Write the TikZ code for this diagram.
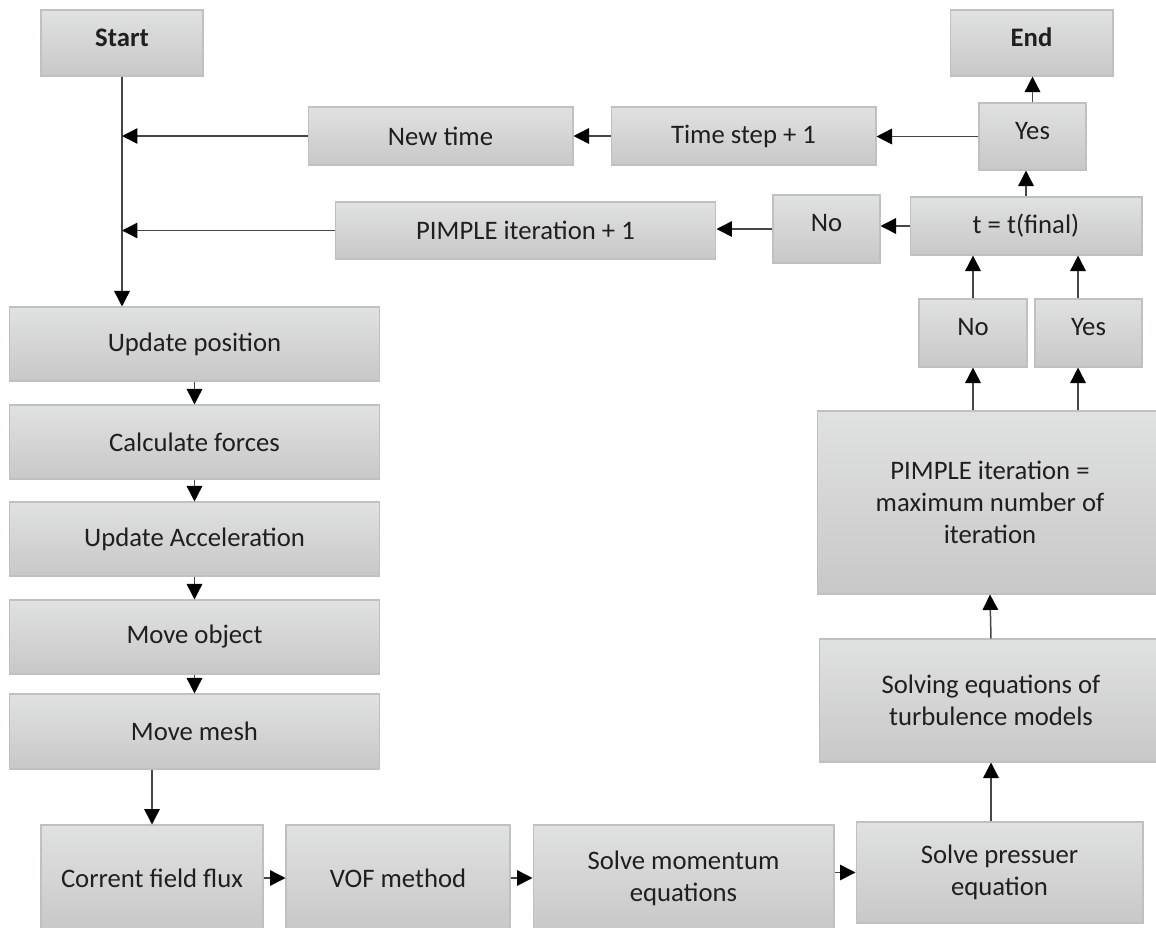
\documentclass[tikz,border=0pt]{standalone}
\usepackage{fontspec}
\setmainfont{Carlito}
\usetikzlibrary{arrows.meta}
\definecolor{boxtop}{RGB}{224,225,225}
\definecolor{boxbot}{RGB}{200,200,200}
\definecolor{boxedge}{RGB}{192,192,192}
\definecolor{linegray}{RGB}{70,70,70}
\newcommand{\liftup}[1]{\raisebox{0.11cm}[\height][\depth]{#1}}
\tikzstyle{every node}=[font=\fontsize{15.2}{18.2}\selectfont]
\tikzstyle{flowbox}=[draw=boxedge,line width=0.6pt,top color=boxtop,bottom color=boxbot,inner sep=0pt,align=center,text=black!88]
\tikzstyle{flow}=[draw=linegray,line width=0.85pt,-{Triangle[length=0.31cm,width=0.31cm,color=black]}]

\begin{document}
\begin{tikzpicture}[x=0.02cm,y=-0.02cm]
\useasboundingbox (0,0) rectangle (1156,927);

% top row
\node[flowbox,minimum width=3.24cm,minimum height=1.32cm] (start) at (122,43) {\liftup{\textbf{Start}}};
\node[flowbox,minimum width=3.26cm,minimum height=1.32cm] (endbox) at (1031.5,43) {\liftup{\textbf{End}}};
\node[flowbox,minimum width=5.3cm,minimum height=1.16cm] (newtime) at (440.5,136) {New time};
\node[flowbox,minimum width=5.3cm,minimum height=1.16cm] (tstep) at (743.5,136) {Time step + 1};
\node[flowbox,minimum width=2.14cm,minimum height=1.34cm] (yestop) at (1032.5,136.5) {\liftup{Yes}};
\node[flowbox,minimum width=7.62cm,minimum height=1.14cm] (pimpleinc) at (525.5,230.5) {PIMPLE iteration + 1};
\node[flowbox,minimum width=2.14cm,minimum height=1.36cm] (notop) at (826.5,229) {\liftup{No}};
\node[flowbox,minimum width=4.64cm,minimum height=1.16cm] (tfinal) at (1026,226) {t = t(final)};
\node[flowbox,minimum width=2.16cm,minimum height=1.36cm] (nolow) at (973,333) {\liftup{No}};
\node[flowbox,minimum width=2.14cm,minimum height=1.36cm] (yeslow) at (1088.5,333) {\liftup{Yes}};
\node[flowbox,minimum width=6.92cm,minimum height=3.66cm] (pimpleeq) at (990,502.5) {PIMPLE iteration =\\maximum number of\\iteration};
\node[flowbox,minimum width=6.88cm,minimum height=2.46cm] (turb) at (991,700.5) {Solving equations of\\turbulence models};

% left column
\node[flowbox,minimum width=7.42cm,minimum height=1.48cm] (uppos) at (194.5,344) {Update position};
\node[flowbox,minimum width=7.42cm,minimum height=1.48cm] (calcf) at (194.5,442) {Calculate forces};
\node[flowbox,minimum width=7.42cm,minimum height=1.48cm] (updacc) at (194.5,539) {Update Acceleration};
\node[flowbox,minimum width=7.42cm,minimum height=1.48cm] (moveobj) at (194.5,637) {Move object};
\node[flowbox,minimum width=7.42cm,minimum height=1.5cm] (movemesh) at (194.5,731.5) {Move mesh};

% bottom row
\node[flowbox,minimum width=4.44cm,minimum height=2.12cm] (corrent) at (152,878) {Corrent field flux};
\node[flowbox,minimum width=4.48cm,minimum height=2.12cm] (vof) at (398,878) {VOF method};
\node[flowbox,minimum width=6.02cm,minimum height=2.12cm] (solvemom) at (683.5,878) {Solve momentum\\equations};
\node[flowbox,minimum width=5.74cm,minimum height=2.02cm] (solvepress) at (999.5,872.5) {Solve pressuer\\equation};

\coordinate (yesin) at ([xshift=-0.21cm]yeslow.south);
\coordinate (yesout) at ([xshift=-0.21cm]yeslow.north);

% connectors
\draw[flow] (start.south) -- (start.south |- uppos.north);
\draw[flow] (newtime.west) -- (newtime.west -| start.south);
\draw[flow] (pimpleinc.west) -- (pimpleinc.west -| start.south);
\draw[flow] (tstep.west) -- (newtime.east);
\draw[flow] (yestop.west) -- (yestop.west -| tstep.east);
\draw[flow] (yestop.north) -- (yestop.north |- endbox.south);
\draw[flow] (tfinal.north) -- (tfinal.north |- yestop.south);
\draw[flow] (tfinal.west) -- (tfinal.west -| notop.east);
\draw[flow] (notop.west) -- (notop.west -| pimpleinc.east);
\draw[flow] (nolow.north) -- (nolow.north |- tfinal.south);
\draw[flow] (yesout) -- (yesout |- tfinal.south);
\draw[flow] (nolow.south |- pimpleeq.north) -- (nolow.south);
\draw[flow] (yesin |- pimpleeq.north) -- (yesin);
\draw[flow] (turb.north) -- (pimpleeq.south);
\draw[flow] (turb.south |- solvepress.north) -- (turb.south);

\draw[flow] (uppos.south) -- (calcf.north);
\draw[flow] (calcf.south) -- (updacc.north);
\draw[flow] (updacc.south) -- (moveobj.north);
\draw[flow] (moveobj.south) -- (movemesh.north);
\draw[flow] (corrent.north |- movemesh.south) -- (corrent.north);

\draw[flow] (corrent.east) -- (vof.west);
\draw[flow] (vof.east) -- (solvemom.west);
\draw[flow] (solvepress.west -| solvemom.east) -- (solvepress.west);

\end{tikzpicture}
\end{document}
